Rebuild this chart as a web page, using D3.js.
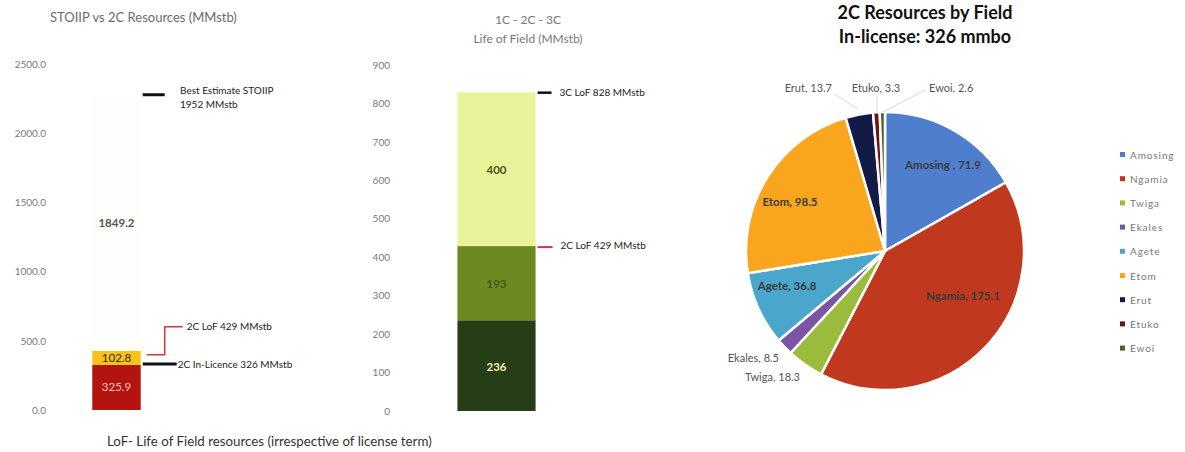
<!DOCTYPE html>
<html>
<head>
<meta charset="utf-8">
<script src="https://cdn.jsdelivr.net/npm/d3@7"></script>
<style>
  html, body { margin: 0; padding: 0; background: #fff; }
  svg { display: block; font-family: Lato, "Open Sans", sans-serif; }
</style>
</head>
<body>
<svg id="chart" width="1185" height="452"></svg>
<script>
// ---- STOIIP vs 2C stacked bar ----
const stoiipSegments = ["2C In-Licence", "2C LoF extra", "STOIIP remainder"];
const stoiipValues = [325.9, 102.8, 1849.2];
const stoiipTicks = [0, 500, 1000, 1500, 2000, 2500];

// ---- 1C / 2C / 3C life of field stacked bar ----
const lofSegments = ["1C", "2C", "3C"];
const lofValues = [236, 193, 400];
const lofTicks = [0, 100, 200, 300, 400, 500, 600, 700, 800, 900];

// ---- 2C resources by field ----
const fields = ["Amosing", "Ngamia", "Twiga", "Ekales", "Agete", "Etom", "Erut", "Etuko", "Ewoi"];
const fieldValues = [71.9, 175.1, 18.3, 8.5, 36.8, 98.5, 13.7, 3.3, 2.6];
const fieldColors = ["#4f7fcc", "#c0391f", "#9bbb3c", "#7a55a6", "#4ba6cc", "#f9a51e", "#121b45", "#6b1414", "#4f6228"];

const svg = d3.select("#chart");

// ================= Left chart =================
{
  const g = svg.append("g");
  const y = d3.scaleLinear().domain([0, 2500]).range([410, 64]);
  const x = d3.scaleBand().domain(["STOIIP"]).range([60, 173]).padding(0.4);

  g.append("text").attr("x", 50).attr("y", 22).attr("font-size", 13)
    .attr("fill", "#6b6b6b").text("STOIIP vs 2C Resources (MMstb)");

  const axis = d3.axisLeft(y).tickValues(stoiipTicks).tickFormat(d3.format(".1f")).tickSize(0);
  const ax = g.append("g").attr("transform", "translate(49,0)").call(axis);
  ax.select(".domain").remove();
  ax.selectAll("text").attr("font-size", 10).attr("fill", "#7a7a7a").attr("font-family", "Lato, sans-serif");

  const stack = [];
  let acc = 0;
  stoiipValues.forEach((v, i) => { stack.push({ name: stoiipSegments[i], v0: acc, v1: acc + v, v }); acc += v; });
  const fills = ["#b3140f", "#f8c21a", "#fefefd"];
  const labelFill = ["#f7c6c0", "#2b2b2b", "#4a5a4a"];

  g.selectAll("rect.seg").data(stack).enter().append("rect")
    .attr("x", x("STOIIP")).attr("width", x.bandwidth())
    .attr("y", d => y(d.v1)).attr("height", d => y(d.v0) - y(d.v1))
    .attr("fill", (d, i) => fills[i]);

  g.selectAll("text.seg").data(stack).enter().append("text")
    .attr("x", x("STOIIP") + x.bandwidth() / 2)
    .attr("y", d => (y(d.v0) + y(d.v1)) / 2 + 4)
    .attr("text-anchor", "middle").attr("font-size", 11.5).attr("font-weight", (d, i) => i === 2 ? "bold" : "normal")
    .attr("fill", (d, i) => labelFill[i]).text(d => d.v.toFixed(1));

  const barRight = x("STOIIP") + x.bandwidth();
  const total = stack[2].v1;
  const lof2c = stack[1].v1;
  const inLic = stack[0].v1;

  // best estimate STOIIP marker
  g.append("line").attr("x1", barRight + 2).attr("x2", barRight + 24)
    .attr("y1", y(total)).attr("y2", y(total)).attr("stroke", "#111").attr("stroke-width", 3);
  g.append("text").attr("x", 180).attr("y", y(total) - 1).attr("font-size", 10).attr("fill", "#222")
    .text("Best Estimate STOIIP");
  g.append("text").attr("x", 180).attr("y", y(total) + 13).attr("font-size", 10).attr("fill", "#222")
    .text("1952 MMstb");

  // 2C LoF elbow connector
  const ly = y(lof2c) + 4;
  g.append("path")
    .attr("d", `M${barRight + 6},${ly} H${barRight + 24} V${ly - 28} H${barRight + 42}`)
    .attr("fill", "none").attr("stroke", "#d4373d").attr("stroke-width", 1.5);
  g.append("text").attr("x", barRight + 46).attr("y", ly - 25).attr("font-size", 10).attr("fill", "#222")
    .text("2C LoF 429 MMstb");

  // 2C in-licence marker
  g.append("line").attr("x1", barRight + 2).attr("x2", barRight + 36)
    .attr("y1", y(inLic) - 1).attr("y2", y(inLic) - 1).attr("stroke", "#111").attr("stroke-width", 3);
  g.append("text").attr("x", barRight + 37).attr("y", y(inLic) + 3).attr("font-size", 10).attr("fill", "#222")
    .text("2C In-Licence 326 MMstb");

  g.append("text").attr("x", 107).attr("y", 446).attr("font-size", 13.3).attr("fill", "#333")
    .text("LoF- Life of Field resources (irrespective of license term)");
}

// ================= Middle chart =================
{
  const g = svg.append("g");
  const y = d3.scaleLinear().domain([0, 900]).range([411, 65]);
  const x = d3.scaleBand().domain(["LoF"]).range([442, 551]).padding(0.165);

  g.append("text").attr("x", 528).attr("y", 24).attr("text-anchor", "middle").attr("font-size", 12)
    .attr("fill", "#777").text("1C - 2C - 3C");
  g.append("text").attr("x", 528).attr("y", 43).attr("text-anchor", "middle").attr("font-size", 12)
    .attr("fill", "#777").text("Life of Field (MMstb)");

  const axis = d3.axisLeft(y).tickValues(lofTicks).tickSize(0);
  const ax = g.append("g").attr("transform", "translate(393,0)").call(axis);
  ax.select(".domain").remove();
  ax.selectAll("text").attr("font-size", 10).attr("fill", "#7a7a7a").attr("font-family", "Lato, sans-serif");

  const stack = [];
  let acc = 0;
  lofValues.forEach((v, i) => { stack.push({ name: lofSegments[i], v0: acc, v1: acc + v, v }); acc += v; });
  const fills = ["#263d17", "#6d8a22", "#eaf29a"];
  const labelFill = ["#f1f0a6", "#46561a", "#4a5418"];

  g.selectAll("rect.seg").data(stack).enter().append("rect")
    .attr("x", x("LoF")).attr("width", x.bandwidth())
    .attr("y", d => y(d.v1)).attr("height", d => y(d.v0) - y(d.v1))
    .attr("fill", (d, i) => fills[i]);

  g.selectAll("text.seg").data(stack).enter().append("text")
    .attr("x", x("LoF") + x.bandwidth() / 2)
    .attr("y", d => (y(d.v0) + y(d.v1)) / 2 + 5)
    .attr("text-anchor", "middle").attr("font-size", 11.5).attr("font-weight", "bold")
    .attr("fill", (d, i) => labelFill[i]).text(d => d.v);

  const barRight = x("LoF") + x.bandwidth();
  const top3c = 828;
  const top2c = stack[1].v1;

  g.append("line").attr("x1", barRight + 2).attr("x2", barRight + 16)
    .attr("y1", y(top3c)).attr("y2", y(top3c)).attr("stroke", "#111").attr("stroke-width", 2.5);
  g.append("text").attr("x", barRight + 24).attr("y", y(top3c) + 3).attr("font-size", 10).attr("fill", "#222")
    .text("3C LoF 828 MMstb");

  g.append("line").attr("x1", barRight + 2).attr("x2", barRight + 17)
    .attr("y1", y(top2c) + 1).attr("y2", y(top2c) + 1).attr("stroke", "#d4373d").attr("stroke-width", 2);
  g.append("text").attr("x", barRight + 25).attr("y", y(top2c) + 3).attr("font-size", 10).attr("fill", "#222")
    .text("2C LoF 429 MMstb");
}

// ================= Pie chart =================
{
  const g = svg.append("g");
  const cx = 885, cy = 251, r = 139;

  g.append("text").attr("x", 925).attr("y", 19).attr("text-anchor", "middle").attr("font-size", 18)
    .attr("font-weight", "bold").attr("fill", "#111").text("2C Resources by Field");
  g.append("text").attr("x", 925).attr("y", 43).attr("text-anchor", "middle").attr("font-size", 18)
    .attr("font-weight", "bold").attr("fill", "#111").text("In-license: 326 mmbo");

  const data = fields.map((f, i) => ({ name: f, value: fieldValues[i], color: fieldColors[i] }));
  const pie = d3.pie().value(d => d.value).sort(null);
  const arcs = pie(data);
  const arc = d3.arc().innerRadius(0).outerRadius(r);

  const pg = g.append("g").attr("transform", `translate(${cx},${cy})`);
  pg.selectAll("path").data(arcs).enter().append("path")
    .attr("d", arc).attr("fill", d => d.data.color)
    .attr("stroke", "#fff").attr("stroke-width", 2.5).attr("stroke-linejoin", "round");

  // inside labels
  const inside = { Amosing: [58, -82], Ngamia: [78, 49], Etom: [-95, -45], Agete: [-98, 39] };
  arcs.filter(d => inside[d.data.name]).forEach(d => {
    const [dx, dy] = inside[d.data.name];
    pg.append("text").attr("x", dx).attr("y", dy).attr("text-anchor", "middle")
      .attr("font-size", 11.5).attr("font-weight", "bold").attr("fill", "#3a3a3a")
      .text(d.data.name + (d.data.name === "Amosing" ? " , " : ", ") + d.data.value);
  });

  // outside labels with leaders
  const outside = {
    Erut: { x: 832, y: 92, anchor: "end", lead: [[834, 94], [858, 109]] },
    Etuko: { x: 876, y: 92, anchor: "middle", lead: [[877, 96], [877, 112]] },
    Ewoi: { x: 929, y: 92, anchor: "start", lead: [[925, 90], [883, 112]] },
    Ekales: { x: 779, y: 362, anchor: "end", lead: null },
    Twiga: { x: 800, y: 381, anchor: "end", lead: null }
  };
  arcs.filter(d => outside[d.data.name]).forEach(d => {
    const o = outside[d.data.name];
    if (o.lead) {
      g.append("polyline").attr("points", o.lead.map(p => p.join(",")).join(" "))
        .attr("fill", "none").attr("stroke", "#cfcfcf").attr("stroke-width", 0.8);
    }
    g.append("text").attr("x", o.x).attr("y", o.y).attr("text-anchor", o.anchor)
      .attr("font-size", 11).attr("fill", "#555").text(d.data.name + ", " + d.data.value);
  });

  // legend
  const lg = g.append("g").attr("transform", "translate(1120,155)");
  const items = lg.selectAll("g").data(data).enter().append("g")
    .attr("transform", (d, i) => `translate(0,${i * 24.2})`);
  items.append("rect").attr("x", 0).attr("y", -3).attr("width", 5).attr("height", 5).attr("fill", d => d.color);
  items.append("text").attr("x", 10).attr("y", 3.5).attr("font-size", 10).attr("letter-spacing", 0.9)
    .attr("fill", "#777").text(d => d.name);
}
</script>
</body>
</html>
